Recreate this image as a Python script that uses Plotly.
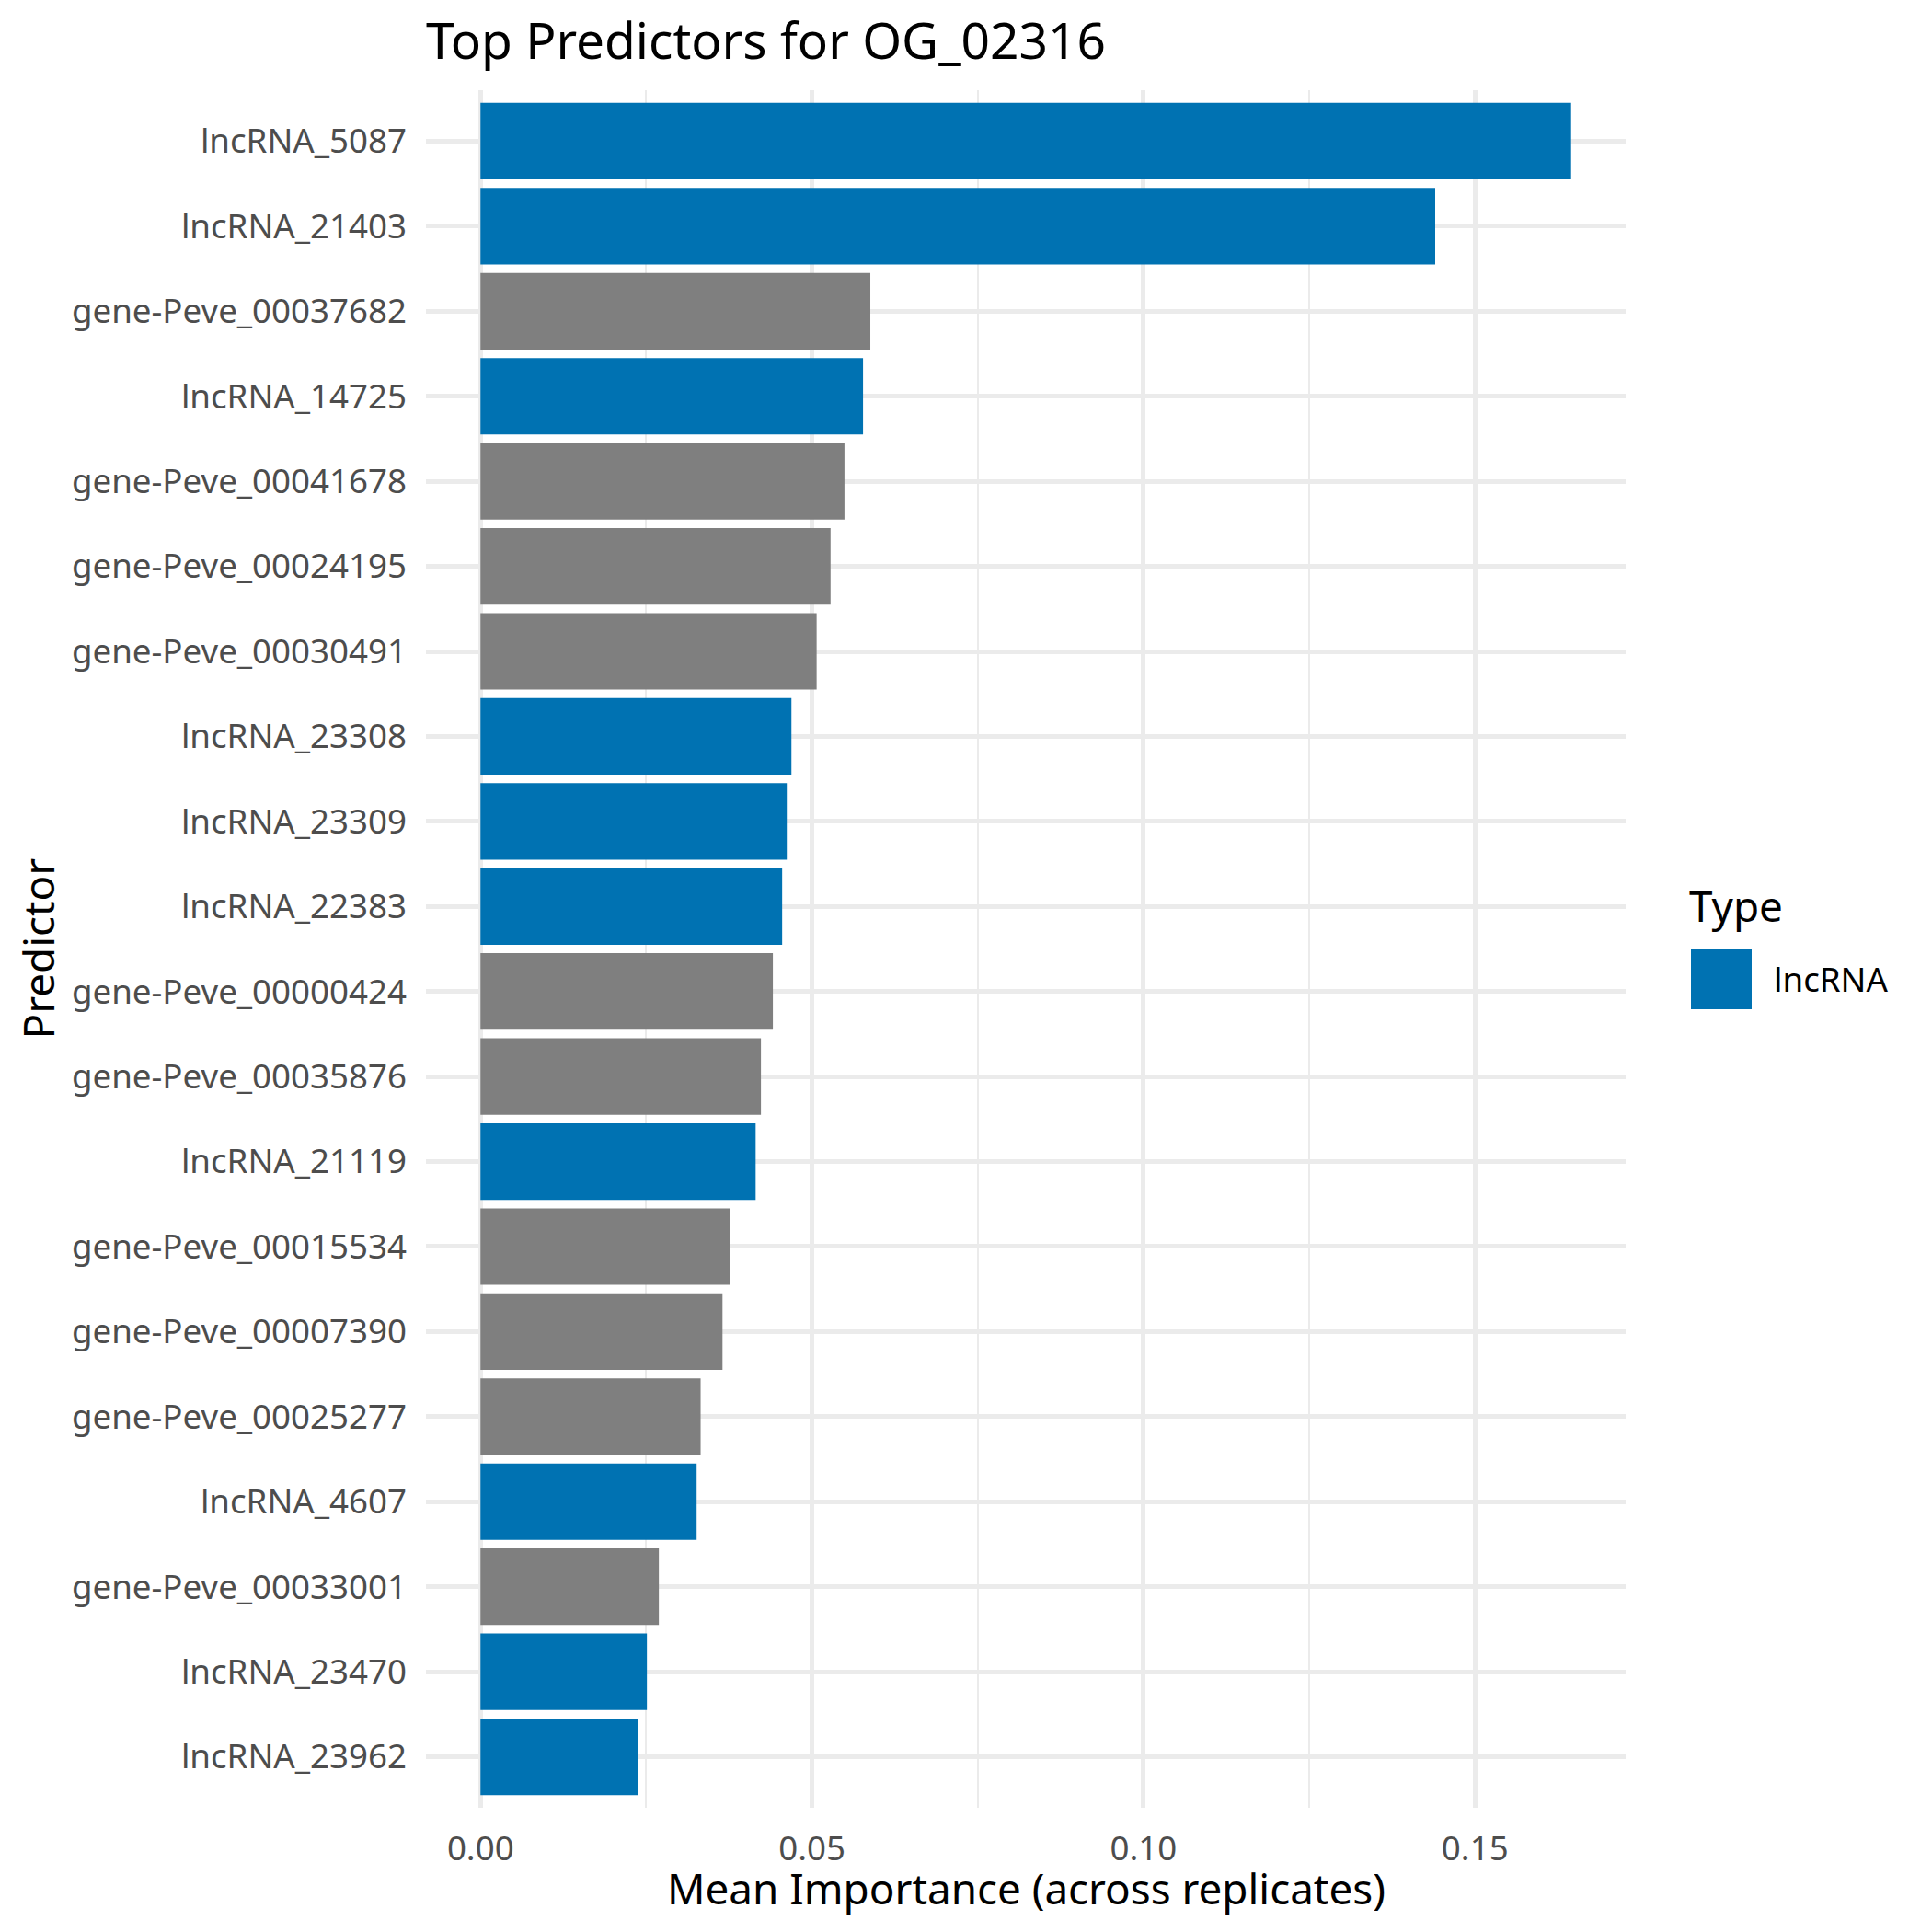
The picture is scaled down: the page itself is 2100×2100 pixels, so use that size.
import plotly.graph_objects as go

predictors = [
    "lncRNA_5087", "lncRNA_21403", "gene-Peve_00037682", "lncRNA_14725",
    "gene-Peve_00041678", "gene-Peve_00024195", "gene-Peve_00030491",
    "lncRNA_23308", "lncRNA_23309", "lncRNA_22383", "gene-Peve_00000424",
    "gene-Peve_00035876", "lncRNA_21119", "gene-Peve_00015534",
    "gene-Peve_00007390", "gene-Peve_00025277", "lncRNA_4607",
    "gene-Peve_00033001", "lncRNA_23470", "lncRNA_23962",
]
importance = [
    0.1645, 0.1440, 0.0588, 0.0577, 0.0549, 0.0528, 0.0507, 0.0469, 0.0462,
    0.0455, 0.0441, 0.0423, 0.0415, 0.0377, 0.0365, 0.0332, 0.0326, 0.0269,
    0.0251, 0.0238,
]
types = ["lncRNA" if p.startswith("lncRNA") else "gene" for p in predictors]
x_ticks = [0.0, 0.05, 0.10, 0.15]
x_ticktext = ["0.00", "0.05", "0.10", "0.15"]

BLUE = "#0072B2"
GRAY = "#7F7F7F"
FONT = "Noto Sans"

W = H = 2100
OFF = 8  # page body margin offset
L, R, T, B = 463 - OFF, 1767 - OFF, 98 - OFF, 1965 - OFF
pw, ph = R - L, B - T


def px(xp):
    return (xp - OFF - L) / pw


def py(yp):
    return (B - (yp - OFF)) / ph


fig = go.Figure()
for t, col in [("lncRNA", BLUE), ("gene", GRAY)]:
    ys = [p for p, tt in zip(predictors, types) if tt == t]
    xs = [v for v, tt in zip(importance, types) if tt == t]
    fig.add_trace(go.Bar(
        x=xs, y=ys, orientation="h", name=t, width=0.9,
        marker=dict(color=col, line=dict(width=0)), showlegend=False,
    ))

xmax = max(importance)
pad = 0.05 * xmax
fig.update_layout(
    width=W, height=H,
    margin=dict(l=L, r=W - R, t=T, b=H - B, pad=0),
    paper_bgcolor="white", plot_bgcolor="white",
    barmode="overlay",
    font=dict(family=FONT, color="black"),
    title=dict(
        text="Top Predictors for OG_02316",
        font=dict(family=FONT, size=55, color="black"),
        x=0, xref="paper", xanchor="left",
        y=1 - (45 - OFF) / H, yref="container", yanchor="middle",
    ),
    xaxis=dict(
        range=[-pad, xmax + pad],
        tickvals=x_ticks, ticktext=x_ticktext,
        showgrid=True, gridcolor="#EBEBEB", gridwidth=4.5,
        zeroline=False, showline=False, ticks="",
        ticklabelstandoff=19,
        tickfont=dict(family=FONT, size=36.7, color="#4D4D4D"),
        minor=dict(tickvals=[0.025, 0.075, 0.125], showgrid=True,
                   gridcolor="#EBEBEB", gridwidth=2.3, ticks=""),
    ),
    yaxis=dict(
        categoryorder="array", categoryarray=predictors[::-1],
        range=[-0.6, len(predictors) - 0.4],
        showgrid=True, gridcolor="#EBEBEB", gridwidth=4.5,
        zeroline=False, showline=False, ticks="",
        ticklabelstandoff=20,
        tickfont=dict(family=FONT, size=36.7, color="#4D4D4D"),
    ),
)

annotations = [
    dict(text="Mean Importance (across replicates)", x=0.5, y=py(2052),
         xref="paper", yref="paper", xanchor="center", yanchor="middle",
         showarrow=False, font=dict(family=FONT, size=45.8, color="black")),
    dict(text="Predictor", x=px(40), y=0.5, textangle=-90,
         xref="paper", yref="paper", xanchor="center", yanchor="middle",
         showarrow=False, font=dict(family=FONT, size=45.8, color="black")),
    dict(text="Type", x=px(1834), y=py(984),
         xref="paper", yref="paper", xanchor="left", yanchor="middle",
         showarrow=False, font=dict(family=FONT, size=45.8, color="black")),
    dict(text="lncRNA", x=px(1926), y=py(1064),
         xref="paper", yref="paper", xanchor="left", yanchor="middle",
         showarrow=False, font=dict(family=FONT, size=36.7, color="black")),
]
fig.update_layout(annotations=annotations)
fig.add_shape(type="rect", xref="paper", yref="paper",
              x0=px(1838), x1=px(1904), y0=py(1097), y1=py(1031),
              fillcolor=BLUE, line=dict(width=0))

fig.write_html("out.html")
